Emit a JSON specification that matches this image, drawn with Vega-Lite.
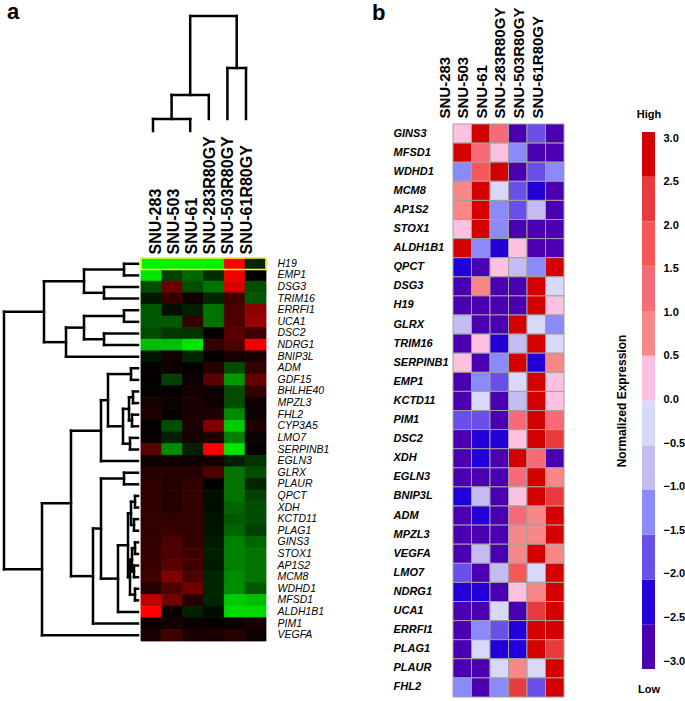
{
"$schema":"https://vega.github.io/schema/vega-lite/v6.json",
"padding":{"left":2,"top":1,"right":0,"bottom":0},
"config":{"view":{"stroke":null},"font":"Liberation Sans","axis":{"grid":false}},
"datasets":{
"samples":[{"s":"SNU-283"},{"s":"SNU-503"},{"s":"SNU-61"},{"s":"SNU-283R80GY"},{"s":"SNU-503R80GY"},{"s":"SNU-61R80GY"}],
"cd":[{"x":0,"x2":2,"y":12,"y2":12},{"x":0,"x2":0,"y":0,"y2":12},{"x":2,"x2":2,"y":0,"y2":12},{"x":1,"x2":1,"y":12,"y2":36},{"x":1,"x2":3,"y":36,"y2":36},{"x":3,"x2":3,"y":12,"y2":36},{"x":2,"x2":2,"y":36,"y2":115},{"x":4,"x2":5,"y":63,"y2":63},{"x":4,"x2":4,"y":12,"y2":63},{"x":5,"x2":5,"y":12,"y2":63},{"x":4.5,"x2":4.5,"y":63,"y2":115},{"x":2,"x2":4.5,"y":115,"y2":115}],
"rd":[
{"x":120,"x2":120,"y":0,"y2":1},{"x":120,"x2":134,"y":0,"y2":0},{"x":120,"x2":134,"y":1,"y2":1},
{"x":100,"x2":100,"y":2,"y2":3},{"x":100,"x2":134,"y":2,"y2":2},{"x":100,"x2":134,"y":3,"y2":3},
{"x":80,"x2":80,"y":0.5,"y2":2.5},{"x":80,"x2":120,"y":0.5,"y2":0.5},{"x":80,"x2":100,"y":2.5,"y2":2.5},
{"x":120,"x2":120,"y":4,"y2":5},{"x":120,"x2":134,"y":4,"y2":4},{"x":120,"x2":134,"y":5,"y2":5},
{"x":100,"x2":100,"y":6,"y2":7},{"x":100,"x2":134,"y":6,"y2":6},{"x":100,"x2":134,"y":7,"y2":7},
{"x":80,"x2":80,"y":4.5,"y2":6.5},{"x":80,"x2":120,"y":4.5,"y2":4.5},{"x":80,"x2":100,"y":6.5,"y2":6.5},
{"x":62,"x2":62,"y":5.5,"y2":8},{"x":62,"x2":80,"y":5.5,"y2":5.5},{"x":62,"x2":134,"y":8,"y2":8},
{"x":40,"x2":40,"y":1.5,"y2":6.75},{"x":40,"x2":80,"y":1.5,"y2":1.5},{"x":40,"x2":62,"y":6.75,"y2":6.75},
{"x":127,"x2":127,"y":9,"y2":10},{"x":127,"x2":134,"y":9,"y2":9},{"x":127,"x2":134,"y":10,"y2":10},
{"x":129,"x2":129,"y":11,"y2":12},{"x":129,"x2":134,"y":11,"y2":11},{"x":129,"x2":134,"y":12,"y2":12},
{"x":128,"x2":128,"y":13,"y2":14},{"x":128,"x2":134,"y":13,"y2":13},{"x":128,"x2":134,"y":14,"y2":14},
{"x":126,"x2":126,"y":15,"y2":16},{"x":126,"x2":134,"y":15,"y2":15},{"x":126,"x2":134,"y":16,"y2":16},
{"x":125,"x2":125,"y":11.5,"y2":13.5},{"x":125,"x2":129,"y":11.5,"y2":11.5},{"x":125,"x2":128,"y":13.5,"y2":13.5},
{"x":119,"x2":119,"y":12.5,"y2":15.5},{"x":119,"x2":125,"y":12.5,"y2":12.5},{"x":119,"x2":126,"y":15.5,"y2":15.5},
{"x":104,"x2":104,"y":9.5,"y2":14},{"x":104,"x2":127,"y":9.5,"y2":9.5},{"x":104,"x2":119,"y":14,"y2":14},
{"x":97,"x2":97,"y":11.75,"y2":17},{"x":97,"x2":104,"y":11.75,"y2":11.75},{"x":97,"x2":134,"y":17,"y2":17},
{"x":120,"x2":120,"y":18,"y2":19},{"x":120,"x2":134,"y":18,"y2":18},{"x":120,"x2":134,"y":19,"y2":19},
{"x":131,"x2":131,"y":20,"y2":21},{"x":131,"x2":134,"y":20,"y2":20},{"x":131,"x2":134,"y":21,"y2":21},
{"x":130,"x2":130,"y":22,"y2":23},{"x":130,"x2":134,"y":22,"y2":22},{"x":130,"x2":134,"y":23,"y2":23},
{"x":127,"x2":127,"y":20.5,"y2":22.5},{"x":127,"x2":131,"y":20.5,"y2":20.5},{"x":127,"x2":130,"y":22.5,"y2":22.5},
{"x":131,"x2":131,"y":24,"y2":25},{"x":131,"x2":134,"y":24,"y2":24},{"x":131,"x2":134,"y":25,"y2":25},
{"x":130,"x2":130,"y":26,"y2":27},{"x":130,"x2":134,"y":26,"y2":26},{"x":130,"x2":134,"y":27,"y2":27},
{"x":128,"x2":128,"y":24.5,"y2":26.5},{"x":128,"x2":131,"y":24.5,"y2":24.5},{"x":128,"x2":130,"y":26.5,"y2":26.5},
{"x":131,"x2":131,"y":28,"y2":29},{"x":131,"x2":134,"y":28,"y2":28},{"x":131,"x2":134,"y":29,"y2":29},
{"x":126,"x2":126,"y":25.5,"y2":28.5},{"x":126,"x2":128,"y":25.5,"y2":25.5},{"x":126,"x2":131,"y":28.5,"y2":28.5},
{"x":124,"x2":124,"y":21.5,"y2":27},{"x":124,"x2":127,"y":21.5,"y2":21.5},{"x":124,"x2":126,"y":27,"y2":27},
{"x":114,"x2":114,"y":24.25,"y2":30},{"x":114,"x2":124,"y":24.25,"y2":24.25},{"x":114,"x2":134,"y":30,"y2":30},
{"x":97,"x2":97,"y":18.5,"y2":27.125},{"x":97,"x2":120,"y":18.5,"y2":18.5},{"x":97,"x2":114,"y":27.125,"y2":27.125},
{"x":89,"x2":89,"y":22.81,"y2":31},{"x":89,"x2":97,"y":22.81,"y2":22.81},{"x":89,"x2":134,"y":31,"y2":31},
{"x":67,"x2":67,"y":14.375,"y2":26.91},{"x":67,"x2":97,"y":14.375,"y2":14.375},{"x":67,"x2":89,"y":26.91,"y2":26.91},
{"x":38,"x2":38,"y":20.64,"y2":32},{"x":38,"x2":67,"y":20.64,"y2":20.64},{"x":38,"x2":134,"y":32,"y2":32},
{"x":0,"x2":0,"y":4.125,"y2":26.32},{"x":0,"x2":40,"y":4.125,"y2":4.125},{"x":0,"x2":38,"y":26.32,"y2":26.32}],
"leg":[{"lo":-3,"hi":-2.5,"v":-2.75},{"lo":-2.5,"hi":-2,"v":-2.25},{"lo":-2,"hi":-1.5,"v":-1.75},{"lo":-1.5,"hi":-1,"v":-1.25},{"lo":-1,"hi":-0.5,"v":-0.75},{"lo":-0.5,"hi":0,"v":-0.25},{"lo":0,"hi":0.5,"v":0.25},{"lo":0.5,"hi":1,"v":0.75},{"lo":1,"hi":1.5,"v":1.25},{"lo":1.5,"hi":2,"v":1.75},{"lo":2,"hi":2.5,"v":2.25},{"lo":2.5,"hi":3,"v":2.75}],
"a":[
{"g":"H19","s":"SNU-283","v":-0.95},{"g":"H19","s":"SNU-503","v":-0.95},{"g":"H19","s":"SNU-61","v":-0.95},{"g":"H19","s":"SNU-283R80GY","v":-0.95},{"g":"H19","s":"SNU-503R80GY","v":1.0},{"g":"H19","s":"SNU-61R80GY","v":-0.15},
{"g":"EMP1","s":"SNU-283","v":-0.9},{"g":"EMP1","s":"SNU-503","v":-0.25},{"g":"EMP1","s":"SNU-61","v":-0.4},{"g":"EMP1","s":"SNU-283R80GY","v":-0.18},{"g":"EMP1","s":"SNU-503R80GY","v":0.95},{"g":"EMP1","s":"SNU-61R80GY","v":0.0},
{"g":"DSG3","s":"SNU-283","v":-0.3},{"g":"DSG3","s":"SNU-503","v":0.42},{"g":"DSG3","s":"SNU-61","v":-0.3},{"g":"DSG3","s":"SNU-283R80GY","v":-0.45},{"g":"DSG3","s":"SNU-503R80GY","v":0.85},{"g":"DSG3","s":"SNU-61R80GY","v":-0.3},
{"g":"TRIM16","s":"SNU-283","v":-0.1},{"g":"TRIM16","s":"SNU-503","v":0.22},{"g":"TRIM16","s":"SNU-61","v":0.05},{"g":"TRIM16","s":"SNU-283R80GY","v":-0.15},{"g":"TRIM16","s":"SNU-503R80GY","v":0.25},{"g":"TRIM16","s":"SNU-61R80GY","v":-0.35},
{"g":"ERRFI1","s":"SNU-283","v":-0.35},{"g":"ERRFI1","s":"SNU-503","v":-0.05},{"g":"ERRFI1","s":"SNU-61","v":-0.12},{"g":"ERRFI1","s":"SNU-283R80GY","v":-0.45},{"g":"ERRFI1","s":"SNU-503R80GY","v":0.3},{"g":"ERRFI1","s":"SNU-61R80GY","v":0.55},
{"g":"UCA1","s":"SNU-283","v":-0.35},{"g":"UCA1","s":"SNU-503","v":-0.35},{"g":"UCA1","s":"SNU-61","v":0.2},{"g":"UCA1","s":"SNU-283R80GY","v":-0.45},{"g":"UCA1","s":"SNU-503R80GY","v":0.3},{"g":"UCA1","s":"SNU-61R80GY","v":0.6},
{"g":"DSC2","s":"SNU-283","v":-0.3},{"g":"DSC2","s":"SNU-503","v":-0.22},{"g":"DSC2","s":"SNU-61","v":-0.2},{"g":"DSC2","s":"SNU-283R80GY","v":0.02},{"g":"DSC2","s":"SNU-503R80GY","v":0.35},{"g":"DSC2","s":"SNU-61R80GY","v":0.25},
{"g":"NDRG1","s":"SNU-283","v":-0.75},{"g":"NDRG1","s":"SNU-503","v":-0.75},{"g":"NDRG1","s":"SNU-61","v":-0.9},{"g":"NDRG1","s":"SNU-283R80GY","v":0.2},{"g":"NDRG1","s":"SNU-503R80GY","v":0.3},{"g":"NDRG1","s":"SNU-61R80GY","v":0.95},
{"g":"BNIP3L","s":"SNU-283","v":-0.08},{"g":"BNIP3L","s":"SNU-503","v":0.08},{"g":"BNIP3L","s":"SNU-61","v":-0.15},{"g":"BNIP3L","s":"SNU-283R80GY","v":0.02},{"g":"BNIP3L","s":"SNU-503R80GY","v":0.08},{"g":"BNIP3L","s":"SNU-61R80GY","v":0.1},
{"g":"ADM","s":"SNU-283","v":0.02},{"g":"ADM","s":"SNU-503","v":0.05},{"g":"ADM","s":"SNU-61","v":0.02},{"g":"ADM","s":"SNU-283R80GY","v":0.15},{"g":"ADM","s":"SNU-503R80GY","v":-0.3},{"g":"ADM","s":"SNU-61R80GY","v":0.2},
{"g":"GDF15","s":"SNU-283","v":0.02},{"g":"GDF15","s":"SNU-503","v":-0.25},{"g":"GDF15","s":"SNU-61","v":0.05},{"g":"GDF15","s":"SNU-283R80GY","v":0.35},{"g":"GDF15","s":"SNU-503R80GY","v":-0.6},{"g":"GDF15","s":"SNU-61R80GY","v":0.4},
{"g":"BHLHE40","s":"SNU-283","v":0.02},{"g":"BHLHE40","s":"SNU-503","v":0.02},{"g":"BHLHE40","s":"SNU-61","v":0.08},{"g":"BHLHE40","s":"SNU-283R80GY","v":0.05},{"g":"BHLHE40","s":"SNU-503R80GY","v":-0.3},{"g":"BHLHE40","s":"SNU-61R80GY","v":0.2},
{"g":"MPZL3","s":"SNU-283","v":0.08},{"g":"MPZL3","s":"SNU-503","v":0.05},{"g":"MPZL3","s":"SNU-61","v":0.1},{"g":"MPZL3","s":"SNU-283R80GY","v":0.05},{"g":"MPZL3","s":"SNU-503R80GY","v":-0.3},{"g":"MPZL3","s":"SNU-61R80GY","v":0.05},
{"g":"FHL2","s":"SNU-283","v":0.12},{"g":"FHL2","s":"SNU-503","v":0.02},{"g":"FHL2","s":"SNU-61","v":0.1},{"g":"FHL2","s":"SNU-283R80GY","v":0.12},{"g":"FHL2","s":"SNU-503R80GY","v":-0.55},{"g":"FHL2","s":"SNU-61R80GY","v":0.05},
{"g":"CYP3A5","s":"SNU-283","v":0.03},{"g":"CYP3A5","s":"SNU-503","v":-0.3},{"g":"CYP3A5","s":"SNU-61","v":0.1},{"g":"CYP3A5","s":"SNU-283R80GY","v":0.5},{"g":"CYP3A5","s":"SNU-503R80GY","v":-0.8},{"g":"CYP3A5","s":"SNU-61R80GY","v":0.12},
{"g":"LMO7","s":"SNU-283","v":0.03},{"g":"LMO7","s":"SNU-503","v":-0.12},{"g":"LMO7","s":"SNU-61","v":0.08},{"g":"LMO7","s":"SNU-283R80GY","v":0.12},{"g":"LMO7","s":"SNU-503R80GY","v":-0.5},{"g":"LMO7","s":"SNU-61R80GY","v":0.05},
{"g":"SERPINB1","s":"SNU-283","v":0.35},{"g":"SERPINB1","s":"SNU-503","v":-0.55},{"g":"SERPINB1","s":"SNU-61","v":-0.12},{"g":"SERPINB1","s":"SNU-283R80GY","v":1.0},{"g":"SERPINB1","s":"SNU-503R80GY","v":-0.9},{"g":"SERPINB1","s":"SNU-61R80GY","v":0.02},
{"g":"EGLN3","s":"SNU-283","v":0.05},{"g":"EGLN3","s":"SNU-503","v":0.05},{"g":"EGLN3","s":"SNU-61","v":0.06},{"g":"EGLN3","s":"SNU-283R80GY","v":0.08},{"g":"EGLN3","s":"SNU-503R80GY","v":-0.12},{"g":"EGLN3","s":"SNU-61R80GY","v":-0.2},
{"g":"GLRX","s":"SNU-283","v":0.15},{"g":"GLRX","s":"SNU-503","v":0.15},{"g":"GLRX","s":"SNU-61","v":0.15},{"g":"GLRX","s":"SNU-283R80GY","v":0.3},{"g":"GLRX","s":"SNU-503R80GY","v":-0.45},{"g":"GLRX","s":"SNU-61R80GY","v":-0.3},
{"g":"PLAUR","s":"SNU-283","v":0.18},{"g":"PLAUR","s":"SNU-503","v":0.15},{"g":"PLAUR","s":"SNU-61","v":0.2},{"g":"PLAUR","s":"SNU-283R80GY","v":0.0},{"g":"PLAUR","s":"SNU-503R80GY","v":-0.45},{"g":"PLAUR","s":"SNU-61R80GY","v":-0.15},
{"g":"QPCT","s":"SNU-283","v":0.18},{"g":"QPCT","s":"SNU-503","v":0.15},{"g":"QPCT","s":"SNU-61","v":0.2},{"g":"QPCT","s":"SNU-283R80GY","v":-0.05},{"g":"QPCT","s":"SNU-503R80GY","v":-0.45},{"g":"QPCT","s":"SNU-61R80GY","v":-0.25},
{"g":"XDH","s":"SNU-283","v":0.2},{"g":"XDH","s":"SNU-503","v":0.15},{"g":"XDH","s":"SNU-61","v":0.2},{"g":"XDH","s":"SNU-283R80GY","v":-0.05},{"g":"XDH","s":"SNU-503R80GY","v":-0.4},{"g":"XDH","s":"SNU-61R80GY","v":-0.3},
{"g":"KCTD11","s":"SNU-283","v":0.2},{"g":"KCTD11","s":"SNU-503","v":0.2},{"g":"KCTD11","s":"SNU-61","v":0.2},{"g":"KCTD11","s":"SNU-283R80GY","v":-0.08},{"g":"KCTD11","s":"SNU-503R80GY","v":-0.35},{"g":"KCTD11","s":"SNU-61R80GY","v":-0.3},
{"g":"PLAG1","s":"SNU-283","v":0.2},{"g":"PLAG1","s":"SNU-503","v":0.22},{"g":"PLAG1","s":"SNU-61","v":0.2},{"g":"PLAG1","s":"SNU-283R80GY","v":-0.08},{"g":"PLAG1","s":"SNU-503R80GY","v":-0.4},{"g":"PLAG1","s":"SNU-61R80GY","v":-0.25},
{"g":"GINS3","s":"SNU-283","v":0.2},{"g":"GINS3","s":"SNU-503","v":0.3},{"g":"GINS3","s":"SNU-61","v":0.2},{"g":"GINS3","s":"SNU-283R80GY","v":-0.1},{"g":"GINS3","s":"SNU-503R80GY","v":-0.5},{"g":"GINS3","s":"SNU-61R80GY","v":-0.4},
{"g":"STOX1","s":"SNU-283","v":0.22},{"g":"STOX1","s":"SNU-503","v":0.3},{"g":"STOX1","s":"SNU-61","v":0.25},{"g":"STOX1","s":"SNU-283R80GY","v":-0.12},{"g":"STOX1","s":"SNU-503R80GY","v":-0.5},{"g":"STOX1","s":"SNU-61R80GY","v":-0.45},
{"g":"AP1S2","s":"SNU-283","v":0.22},{"g":"AP1S2","s":"SNU-503","v":0.35},{"g":"AP1S2","s":"SNU-61","v":0.25},{"g":"AP1S2","s":"SNU-283R80GY","v":-0.1},{"g":"AP1S2","s":"SNU-503R80GY","v":-0.5},{"g":"AP1S2","s":"SNU-61R80GY","v":-0.45},
{"g":"MCM8","s":"SNU-283","v":0.25},{"g":"MCM8","s":"SNU-503","v":0.5},{"g":"MCM8","s":"SNU-61","v":0.3},{"g":"MCM8","s":"SNU-283R80GY","v":-0.15},{"g":"MCM8","s":"SNU-503R80GY","v":-0.55},{"g":"MCM8","s":"SNU-61R80GY","v":-0.45},
{"g":"WDHD1","s":"SNU-283","v":0.15},{"g":"WDHD1","s":"SNU-503","v":0.3},{"g":"WDHD1","s":"SNU-61","v":0.45},{"g":"WDHD1","s":"SNU-283R80GY","v":-0.15},{"g":"WDHD1","s":"SNU-503R80GY","v":-0.55},{"g":"WDHD1","s":"SNU-61R80GY","v":-0.35},
{"g":"MFSD1","s":"SNU-283","v":0.75},{"g":"MFSD1","s":"SNU-503","v":0.45},{"g":"MFSD1","s":"SNU-61","v":0.15},{"g":"MFSD1","s":"SNU-283R80GY","v":-0.15},{"g":"MFSD1","s":"SNU-503R80GY","v":-0.8},{"g":"MFSD1","s":"SNU-61R80GY","v":-0.75},
{"g":"ALDH1B1","s":"SNU-283","v":1.0},{"g":"ALDH1B1","s":"SNU-503","v":0.02},{"g":"ALDH1B1","s":"SNU-61","v":-0.12},{"g":"ALDH1B1","s":"SNU-283R80GY","v":-0.05},{"g":"ALDH1B1","s":"SNU-503R80GY","v":-0.85},{"g":"ALDH1B1","s":"SNU-61R80GY","v":-0.85},
{"g":"PIM1","s":"SNU-283","v":0.05},{"g":"PIM1","s":"SNU-503","v":0.08},{"g":"PIM1","s":"SNU-61","v":0.05},{"g":"PIM1","s":"SNU-283R80GY","v":0.03},{"g":"PIM1","s":"SNU-503R80GY","v":0.05},{"g":"PIM1","s":"SNU-61R80GY","v":0.1},
{"g":"VEGFA","s":"SNU-283","v":0.1},{"g":"VEGFA","s":"SNU-503","v":0.25},{"g":"VEGFA","s":"SNU-61","v":0.1},{"g":"VEGFA","s":"SNU-283R80GY","v":0.1},{"g":"VEGFA","s":"SNU-503R80GY","v":0.15},{"g":"VEGFA","s":"SNU-61R80GY","v":0.05}],
"b":[
{"g":"GINS3","s":"SNU-283","v":0.25},{"g":"GINS3","s":"SNU-503","v":2.75},{"g":"GINS3","s":"SNU-61","v":1.25},{"g":"GINS3","s":"SNU-283R80GY","v":-2.75},{"g":"GINS3","s":"SNU-503R80GY","v":-1.75},{"g":"GINS3","s":"SNU-61R80GY","v":-2.75},
{"g":"MFSD1","s":"SNU-283","v":2.75},{"g":"MFSD1","s":"SNU-503","v":1.25},{"g":"MFSD1","s":"SNU-61","v":0.25},{"g":"MFSD1","s":"SNU-283R80GY","v":-1.25},{"g":"MFSD1","s":"SNU-503R80GY","v":-2.75},{"g":"MFSD1","s":"SNU-61R80GY","v":-2.75},
{"g":"WDHD1","s":"SNU-283","v":-1.25},{"g":"WDHD1","s":"SNU-503","v":1.75},{"g":"WDHD1","s":"SNU-61","v":2.75},{"g":"WDHD1","s":"SNU-283R80GY","v":-2.75},{"g":"WDHD1","s":"SNU-503R80GY","v":-1.75},{"g":"WDHD1","s":"SNU-61R80GY","v":-1.25},
{"g":"MCM8","s":"SNU-283","v":0.75},{"g":"MCM8","s":"SNU-503","v":2.75},{"g":"MCM8","s":"SNU-61","v":-0.25},{"g":"MCM8","s":"SNU-283R80GY","v":-1.75},{"g":"MCM8","s":"SNU-503R80GY","v":-2.25},{"g":"MCM8","s":"SNU-61R80GY","v":-2.75},
{"g":"AP1S2","s":"SNU-283","v":0.75},{"g":"AP1S2","s":"SNU-503","v":2.75},{"g":"AP1S2","s":"SNU-61","v":-1.25},{"g":"AP1S2","s":"SNU-283R80GY","v":-1.75},{"g":"AP1S2","s":"SNU-503R80GY","v":-0.75},{"g":"AP1S2","s":"SNU-61R80GY","v":-2.75},
{"g":"STOX1","s":"SNU-283","v":0.25},{"g":"STOX1","s":"SNU-503","v":2.75},{"g":"STOX1","s":"SNU-61","v":-1.25},{"g":"STOX1","s":"SNU-283R80GY","v":-2.75},{"g":"STOX1","s":"SNU-503R80GY","v":-2.75},{"g":"STOX1","s":"SNU-61R80GY","v":-2.75},
{"g":"ALDH1B1","s":"SNU-283","v":2.75},{"g":"ALDH1B1","s":"SNU-503","v":-1.25},{"g":"ALDH1B1","s":"SNU-61","v":-2.25},{"g":"ALDH1B1","s":"SNU-283R80GY","v":0.25},{"g":"ALDH1B1","s":"SNU-503R80GY","v":-2.75},{"g":"ALDH1B1","s":"SNU-61R80GY","v":-2.75},
{"g":"QPCT","s":"SNU-283","v":-2.25},{"g":"QPCT","s":"SNU-503","v":-2.75},{"g":"QPCT","s":"SNU-61","v":0.25},{"g":"QPCT","s":"SNU-283R80GY","v":-0.75},{"g":"QPCT","s":"SNU-503R80GY","v":-1.25},{"g":"QPCT","s":"SNU-61R80GY","v":2.75},
{"g":"DSG3","s":"SNU-283","v":-2.75},{"g":"DSG3","s":"SNU-503","v":0.75},{"g":"DSG3","s":"SNU-61","v":-2.75},{"g":"DSG3","s":"SNU-283R80GY","v":-2.75},{"g":"DSG3","s":"SNU-503R80GY","v":2.75},{"g":"DSG3","s":"SNU-61R80GY","v":-0.25},
{"g":"H19","s":"SNU-283","v":-2.75},{"g":"H19","s":"SNU-503","v":-2.75},{"g":"H19","s":"SNU-61","v":-2.75},{"g":"H19","s":"SNU-283R80GY","v":-2.75},{"g":"H19","s":"SNU-503R80GY","v":2.75},{"g":"H19","s":"SNU-61R80GY","v":0.25},
{"g":"GLRX","s":"SNU-283","v":-0.75},{"g":"GLRX","s":"SNU-503","v":-2.75},{"g":"GLRX","s":"SNU-61","v":-2.75},{"g":"GLRX","s":"SNU-283R80GY","v":2.75},{"g":"GLRX","s":"SNU-503R80GY","v":-0.25},{"g":"GLRX","s":"SNU-61R80GY","v":-1.25},
{"g":"TRIM16","s":"SNU-283","v":-2.75},{"g":"TRIM16","s":"SNU-503","v":0.25},{"g":"TRIM16","s":"SNU-61","v":-2.25},{"g":"TRIM16","s":"SNU-283R80GY","v":-0.75},{"g":"TRIM16","s":"SNU-503R80GY","v":2.75},{"g":"TRIM16","s":"SNU-61R80GY","v":-0.25},
{"g":"SERPINB1","s":"SNU-283","v":0.25},{"g":"SERPINB1","s":"SNU-503","v":-2.75},{"g":"SERPINB1","s":"SNU-61","v":-1.25},{"g":"SERPINB1","s":"SNU-283R80GY","v":2.75},{"g":"SERPINB1","s":"SNU-503R80GY","v":-2.25},{"g":"SERPINB1","s":"SNU-61R80GY","v":0.75},
{"g":"EMP1","s":"SNU-283","v":-2.75},{"g":"EMP1","s":"SNU-503","v":-1.25},{"g":"EMP1","s":"SNU-61","v":-1.75},{"g":"EMP1","s":"SNU-283R80GY","v":-0.25},{"g":"EMP1","s":"SNU-503R80GY","v":2.75},{"g":"EMP1","s":"SNU-61R80GY","v":0.25},
{"g":"KCTD11","s":"SNU-283","v":-2.75},{"g":"KCTD11","s":"SNU-503","v":-0.25},{"g":"KCTD11","s":"SNU-61","v":-2.75},{"g":"KCTD11","s":"SNU-283R80GY","v":-0.75},{"g":"KCTD11","s":"SNU-503R80GY","v":2.75},{"g":"KCTD11","s":"SNU-61R80GY","v":0.25},
{"g":"PIM1","s":"SNU-283","v":-1.75},{"g":"PIM1","s":"SNU-503","v":-1.75},{"g":"PIM1","s":"SNU-61","v":-2.75},{"g":"PIM1","s":"SNU-283R80GY","v":1.25},{"g":"PIM1","s":"SNU-503R80GY","v":2.75},{"g":"PIM1","s":"SNU-61R80GY","v":1.25},
{"g":"DSC2","s":"SNU-283","v":-2.75},{"g":"DSC2","s":"SNU-503","v":-2.25},{"g":"DSC2","s":"SNU-61","v":-2.25},{"g":"DSC2","s":"SNU-283R80GY","v":0.25},{"g":"DSC2","s":"SNU-503R80GY","v":2.75},{"g":"DSC2","s":"SNU-61R80GY","v":2.25},
{"g":"XDH","s":"SNU-283","v":-2.75},{"g":"XDH","s":"SNU-503","v":-2.25},{"g":"XDH","s":"SNU-61","v":-2.75},{"g":"XDH","s":"SNU-283R80GY","v":2.75},{"g":"XDH","s":"SNU-503R80GY","v":1.25},{"g":"XDH","s":"SNU-61R80GY","v":-2.75},
{"g":"EGLN3","s":"SNU-283","v":-2.75},{"g":"EGLN3","s":"SNU-503","v":-2.75},{"g":"EGLN3","s":"SNU-61","v":-2.75},{"g":"EGLN3","s":"SNU-283R80GY","v":1.25},{"g":"EGLN3","s":"SNU-503R80GY","v":2.75},{"g":"EGLN3","s":"SNU-61R80GY","v":0.75},
{"g":"BNIP3L","s":"SNU-283","v":-2.25},{"g":"BNIP3L","s":"SNU-503","v":-0.75},{"g":"BNIP3L","s":"SNU-61","v":-2.75},{"g":"BNIP3L","s":"SNU-283R80GY","v":0.25},{"g":"BNIP3L","s":"SNU-503R80GY","v":2.75},{"g":"BNIP3L","s":"SNU-61R80GY","v":2.25},
{"g":"ADM","s":"SNU-283","v":-2.75},{"g":"ADM","s":"SNU-503","v":-2.25},{"g":"ADM","s":"SNU-61","v":-2.75},{"g":"ADM","s":"SNU-283R80GY","v":1.25},{"g":"ADM","s":"SNU-503R80GY","v":0.75},{"g":"ADM","s":"SNU-61R80GY","v":2.75},
{"g":"MPZL3","s":"SNU-283","v":-2.75},{"g":"MPZL3","s":"SNU-503","v":-2.75},{"g":"MPZL3","s":"SNU-61","v":-2.75},{"g":"MPZL3","s":"SNU-283R80GY","v":0.75},{"g":"MPZL3","s":"SNU-503R80GY","v":0.75},{"g":"MPZL3","s":"SNU-61R80GY","v":2.75},
{"g":"VEGFA","s":"SNU-283","v":-2.75},{"g":"VEGFA","s":"SNU-503","v":-0.75},{"g":"VEGFA","s":"SNU-61","v":-2.75},{"g":"VEGFA","s":"SNU-283R80GY","v":0.75},{"g":"VEGFA","s":"SNU-503R80GY","v":2.75},{"g":"VEGFA","s":"SNU-61R80GY","v":0.75},
{"g":"LMO7","s":"SNU-283","v":-1.75},{"g":"LMO7","s":"SNU-503","v":-2.75},{"g":"LMO7","s":"SNU-61","v":-0.75},{"g":"LMO7","s":"SNU-283R80GY","v":1.75},{"g":"LMO7","s":"SNU-503R80GY","v":-0.25},{"g":"LMO7","s":"SNU-61R80GY","v":2.75},
{"g":"NDRG1","s":"SNU-283","v":-2.25},{"g":"NDRG1","s":"SNU-503","v":-2.25},{"g":"NDRG1","s":"SNU-61","v":-2.75},{"g":"NDRG1","s":"SNU-283R80GY","v":0.25},{"g":"NDRG1","s":"SNU-503R80GY","v":0.75},{"g":"NDRG1","s":"SNU-61R80GY","v":2.75},
{"g":"UCA1","s":"SNU-283","v":-2.75},{"g":"UCA1","s":"SNU-503","v":-2.75},{"g":"UCA1","s":"SNU-61","v":-0.25},{"g":"UCA1","s":"SNU-283R80GY","v":-2.75},{"g":"UCA1","s":"SNU-503R80GY","v":2.25},{"g":"UCA1","s":"SNU-61R80GY","v":2.75},
{"g":"ERRFI1","s":"SNU-283","v":-2.75},{"g":"ERRFI1","s":"SNU-503","v":-1.25},{"g":"ERRFI1","s":"SNU-61","v":-1.75},{"g":"ERRFI1","s":"SNU-283R80GY","v":-2.25},{"g":"ERRFI1","s":"SNU-503R80GY","v":2.75},{"g":"ERRFI1","s":"SNU-61R80GY","v":2.75},
{"g":"PLAG1","s":"SNU-283","v":-2.75},{"g":"PLAG1","s":"SNU-503","v":-0.25},{"g":"PLAG1","s":"SNU-61","v":-2.25},{"g":"PLAG1","s":"SNU-283R80GY","v":-2.25},{"g":"PLAG1","s":"SNU-503R80GY","v":2.75},{"g":"PLAG1","s":"SNU-61R80GY","v":2.25},
{"g":"PLAUR","s":"SNU-283","v":-2.75},{"g":"PLAUR","s":"SNU-503","v":-2.75},{"g":"PLAUR","s":"SNU-61","v":-0.25},{"g":"PLAUR","s":"SNU-283R80GY","v":0.75},{"g":"PLAUR","s":"SNU-503R80GY","v":-0.25},{"g":"PLAUR","s":"SNU-61R80GY","v":2.75},
{"g":"FHL2","s":"SNU-283","v":-1.25},{"g":"FHL2","s":"SNU-503","v":-2.75},{"g":"FHL2","s":"SNU-61","v":-1.25},{"g":"FHL2","s":"SNU-283R80GY","v":2.25},{"g":"FHL2","s":"SNU-503R80GY","v":-1.75},{"g":"FHL2","s":"SNU-61R80GY","v":2.75}]
},
"bounds":"flush",
"spacing":78,
"resolve":{"scale":{"color":"independent"}},
"hconcat":[
{"width":371,"height":625,
 "title":{"text":"a","anchor":"start","frame":"group","fontSize":22,"fontWeight":"bold","font":"Liberation Sans","color":"black","offset":-10,"dx":3},
 "layer":[
  {"data":{"name":"cd"},"mark":{"type":"rule","strokeWidth":2.5,"color":"black","strokeCap":"square"},
   "encoding":{"x":{"field":"x","type":"quantitative","scale":{"domain":[0,5],"range":[149,242],"nice":false,"zero":false},"axis":null},"x2":{"field":"x2"},
    "y":{"field":"y","type":"quantitative","scale":{"domain":[0,115],"range":[115,0],"nice":false,"zero":false},"axis":null},"y2":{"field":"y2"}}},
  {"data":{"name":"samples"},"mark":{"type":"tick","opacity":0},
   "encoding":{"x":{"field":"s","type":"nominal","sort":null,"scale":{"type":"point","range":[151,242],"padding":0},
    "axis":{"orient":"bottom","offset":-387,"title":null,"labelAngle":-90,"labelAlign":"left","labelBaseline":"middle","labelPadding":0,"ticks":false,"domain":false,"labelOverlap":false,"labelFontSize":16,"labelFontWeight":"bold","labelColor":"black","labelFont":"Liberation Sans"}}}},
  {"data":{"name":"rd"},"mark":{"type":"rule","strokeWidth":2.5,"color":"black","strokeCap":"square"},
   "encoding":{"x":{"field":"x","type":"quantitative","scale":{"domain":[0,134],"range":[0,134],"nice":false,"zero":false},"axis":null},"x2":{"field":"x2"},
    "y":{"field":"y","type":"quantitative","scale":{"domain":[-0.5,32.5],"range":[242,625],"nice":false,"zero":false},"axis":null},"y2":{"field":"y2"}}},
  {"data":{"name":"a"},
   "layer":[
    {"mark":{"type":"rect","strokeWidth":0.8},
     "encoding":{"x":{"field":"s","type":"nominal","sort":null,"scale":{"range":[137,262],"paddingInner":0,"paddingOuter":0},"axis":null},
      "y":{"field":"g","type":"nominal","sort":null,"scale":{"range":[242,625],"paddingInner":0,"paddingOuter":0},
       "axis":{"orient":"right","offset":-109,"title":null,"ticks":false,"domain":false,"labelPadding":11,"labelFontSize":10.5,"labelFontStyle":"italic","labelColor":"black","labelFont":"Liberation Sans"}},
      "fill":{"field":"v","type":"quantitative","scale":{"domain":[-1,0,1],"range":["#00ff00","#000000","#ff0000"],"interpolate":"rgb"},"legend":null},
      "stroke":{"field":"v","type":"quantitative","scale":{"domain":[-1,0,1],"range":["#00ff00","#000000","#ff0000"],"interpolate":"rgb"},"legend":null}}},
    {"transform":[{"filter":"datum.s === 'SNU-283'"}],
     "mark":{"type":"rect","fillOpacity":0,"stroke":"#ffff33","strokeWidth":1.5},
     "encoding":{"y":{"field":"g","type":"nominal","sort":null},
      "x":{"datum":0,"type":"quantitative","scale":{"domain":[0,6],"range":[137,262],"nice":false,"zero":false},"axis":null},"x2":{"datum":6},
      "strokeOpacity":{"condition":{"test":"datum.g === 'H19'","value":1},"value":0}}}
   ],
   "resolve":{"scale":{"x":"independent"}}}
 ],
 "resolve":{"scale":{"x":"independent","y":"independent"},"axis":{"x":"independent","y":"independent"}}},
{"width":111,"height":681,
 "title":{"text":"b","anchor":"start","frame":"group","fontSize":22,"fontWeight":"bold","font":"Liberation Sans","color":"black","offset":-18,"dx":-81},
 "layer":[
  {"data":{"name":"b"},"mark":{"type":"rect","stroke":"#a0a0a0","strokeWidth":1},
   "encoding":{"x":{"field":"s","type":"nominal","sort":null,"scale":{"paddingInner":0,"paddingOuter":0},"axis":null},
    "y":{"field":"g","type":"nominal","sort":null,"scale":{"range":[108,681],"paddingInner":0,"paddingOuter":0},
     "axis":{"orient":"left","title":null,"ticks":false,"domain":false,"labelAlign":"left","labelPadding":60,"labelFontSize":11,"labelFontWeight":"bold","labelFontStyle":"italic","labelColor":"black","labelFont":"Liberation Sans"}},
    "color":{"field":"v","type":"quantitative","scale":{"type":"threshold","domain":[-2.5,-2,-1.5,-1,-0.5,0,0.5,1,1.5,2,2.5],"range":["#4a00b0","#2200d8","#6a50e8","#8a8af8","#c4bcf0","#d8d8f8","#fcc0e0","#f88888","#f86a78","#f85858","#e83c3c","#d40000"]},"legend":null}}},
  {"data":{"name":"samples"},"mark":{"type":"tick","opacity":0},
   "encoding":{"x":{"field":"s","type":"nominal","sort":null,"scale":{"type":"point","range":[-9,84],"padding":0},
    "axis":{"orient":"bottom","offset":-576,"title":null,"labelAngle":-90,"labelAlign":"left","labelBaseline":"middle","labelPadding":-3,"ticks":false,"domain":false,"labelOverlap":false,"labelFontSize":15,"labelFontWeight":"bold","labelColor":"black","labelFont":"Liberation Sans"}}}}
 ],
 "resolve":{"scale":{"x":"independent"},"axis":{"x":"independent"}}},
{"width":13,"height":681,"data":{"name":"leg"},
 "layer":[
  {"mark":{"type":"rect"},
   "encoding":{"y":{"field":"hi","type":"quantitative","scale":{"domain":[-3,3],"range":[653,116],"nice":false,"zero":false},
     "axis":{"orient":"left","labels":false,"ticks":false,"domain":false,"title":"Normalized Expression","titleFontSize":12,"titleFontWeight":"bold","titleFont":"Liberation Sans","titleColor":"black","titlePadding":14}},
    "y2":{"field":"lo"},
    "color":{"field":"v","type":"quantitative","scale":{"type":"threshold","domain":[-2.5,-2,-1.5,-1,-0.5,0,0.5,1,1.5,2,2.5],"range":["#4a00b0","#2200d8","#6a50e8","#8a8af8","#c4bcf0","#d8d8f8","#fcc0e0","#f88888","#f86a78","#f85858","#e83c3c","#d40000"]},"legend":null}}},
  {"mark":{"type":"point","opacity":0},
   "encoding":{"y":{"field":"hi","type":"quantitative","scale":{"domain":[-3,3],"range":[645,122],"nice":false,"zero":false},
     "axis":{"orient":"right","title":null,"values":[-3,-2.5,-2,-1.5,-1,-0.5,0,0.5,1,1.5,2,2.5,3],"format":".1f","ticks":false,"domain":false,"labelPadding":8,"labelFontSize":11,"labelFontWeight":"bold","labelColor":"black","labelFont":"Liberation Sans"}},
    "x":{"field":"v","type":"quantitative","axis":{"orient":"top","offset":-117,"labels":false,"ticks":false,"domain":false,"title":"High","titleFontSize":11,"titleFontWeight":"bold","titleFont":"Liberation Sans","titleColor":"black","titlePadding":14}}}},
  {"mark":{"type":"point","opacity":0},
   "encoding":{"x":{"field":"v","type":"quantitative","axis":{"orient":"bottom","offset":-31,"labels":false,"ticks":false,"domain":false,"title":"Low","titleFontSize":11,"titleFontWeight":"bold","titleFont":"Liberation Sans","titleColor":"black","titlePadding":17}}}}
 ],
 "resolve":{"scale":{"y":"independent"},"axis":{"x":"independent","y":"independent"}}}
]
}
